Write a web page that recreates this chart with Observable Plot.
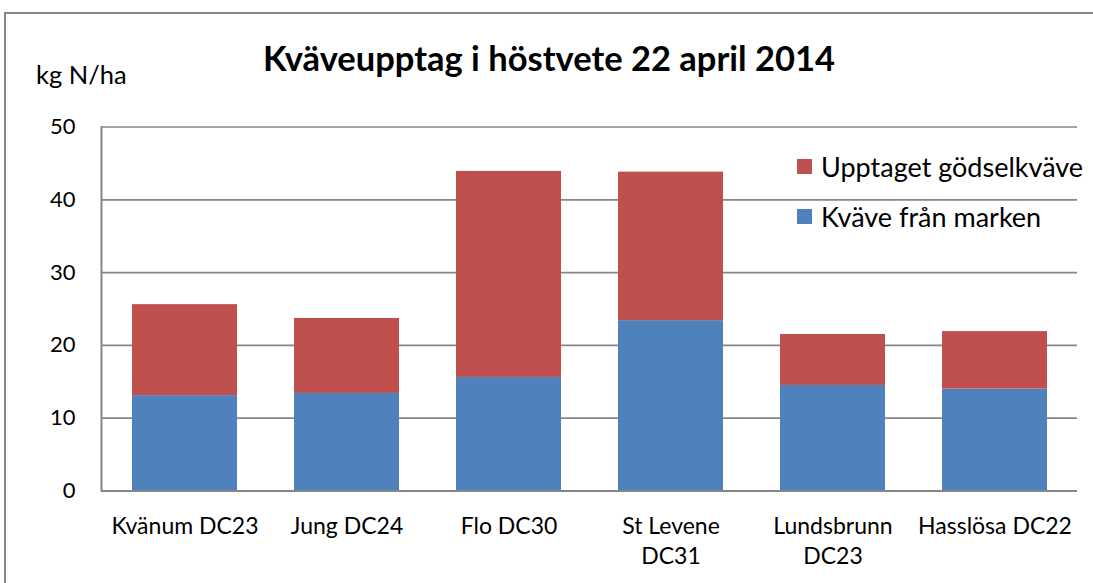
<!DOCTYPE html>
<html>
<head>
<meta charset="utf-8">
<script src="https://cdn.jsdelivr.net/npm/d3@7"></script>
<script src="https://cdn.jsdelivr.net/npm/@observablehq/plot@0.6"></script>
<style>
  html, body { margin: 0; padding: 0; background: #fff; overflow: hidden; }
  #wrap { position: relative; width: 1093px; height: 583px; font-family: Lato, "Open Sans", sans-serif; color: #000; }
  #border { position: absolute; left: 4px; top: 12px; width: 1300px; height: 800px; border-left: 2px solid #868686; border-top: 2px solid #868686; }
  #title { position: absolute; left: 549px; top: 38px; transform: translateX(-50%); font-size: 34.5px; font-weight: 700; line-height: 40px; white-space: nowrap; }
  #unit { position: absolute; left: 36px; top: 57px; font-size: 25.5px; line-height: 34px; white-space: nowrap; }
  #chart { position: absolute; left: 0; top: 100px; }
  #legend { position: absolute; left: 797px; top: 141px; font-size: 27px; }
  .row { display: flex; align-items: center; height: 50px; white-space: nowrap; }
  .sw { width: 15px; height: 15px; margin-right: 9px; }
</style>
</head>
<body>
<div id="wrap">
  <div id="border"></div>
  <div id="title"></div>
  <div id="unit"></div>
  <div id="chart"></div>
  <div id="legend"></div>
</div>
<script>
const titleText = "Kväveupptag i höstvete 22 april 2014";
const unitText = "kg N/ha";
const categories = ["Kvänum DC23", "Jung DC24", "Flo DC30", "St Levene DC31", "Lundsbrunn DC23", "Hasslösa DC22"];
const tickLabels = ["Kvänum DC23", "Jung DC24", "Flo DC30", "St Levene\nDC31", "Lundsbrunn\nDC23", "Hasslösa DC22"];
const soilN = [13.1, 13.4, 15.6, 23.4, 14.5, 14.0];
const fertN = [12.5, 10.3, 28.3, 20.4, 7.0, 7.9];
const seriesNames = ["Kväve från marken", "Upptaget gödselkväve"];
const seriesColors = ["#4F81BD", "#C0504D"];
const legendOrder = ["Upptaget gödselkväve", "Kväve från marken"];
const yTicks = [0, 10, 20, 30, 40, 50];

document.getElementById("title").textContent = titleText;
document.getElementById("unit").textContent = unitText;

const data = [];
categories.forEach((c, i) => {
  data.push({cat: c, series: seriesNames[0], value: soilN[i]});
  data.push({cat: c, series: seriesNames[1], value: fertN[i]});
});

const grid = "#868686";
const chart = Plot.plot({
  width: 1093,
  height: 483,
  marginLeft: 101,
  marginRight: 16,
  marginTop: 26.5,
  marginBottom: 92.5,
  style: {fontFamily: "Lato, 'Open Sans', sans-serif", fontSize: "22px", color: "#000", background: "transparent", overflow: "visible"},
  x: {domain: categories, paddingInner: 0.354, paddingOuter: 0.177, axis: null},
  y: {domain: [0, 50], axis: null},
  color: {domain: seriesNames, range: seriesColors},
  marks: [
    Plot.ruleY(yTicks.slice(1), {stroke: grid, strokeWidth: 1.7}),
    Plot.barY(data, {x: "cat", y: "value", fill: "series", order: seriesNames}),
    Plot.ruleY([0], {stroke: grid, strokeWidth: 2}),
    Plot.frame({anchor: "left", stroke: grid, strokeWidth: 2}),
    Plot.axisY({ticks: yTicks, tickSize: 0, tickPadding: 26, label: null, fontSize: 22}),
    Plot.axisX({tickSize: 0, tickPadding: 22, label: null, fontSize: 23, lineHeight: 1.3, lineWidth: Infinity,
      tickFormat: d => tickLabels[categories.indexOf(d)]})
  ]
});
document.getElementById("chart").appendChild(chart);

const legend = document.getElementById("legend");
legendOrder.forEach(name => {
  const row = document.createElement("div");
  row.className = "row";
  const sw = document.createElement("div");
  sw.className = "sw";
  sw.style.background = seriesColors[seriesNames.indexOf(name)];
  const lab = document.createElement("span");
  lab.textContent = name;
  row.appendChild(sw);
  row.appendChild(lab);
  legend.appendChild(row);
});
</script>
</body>
</html>
